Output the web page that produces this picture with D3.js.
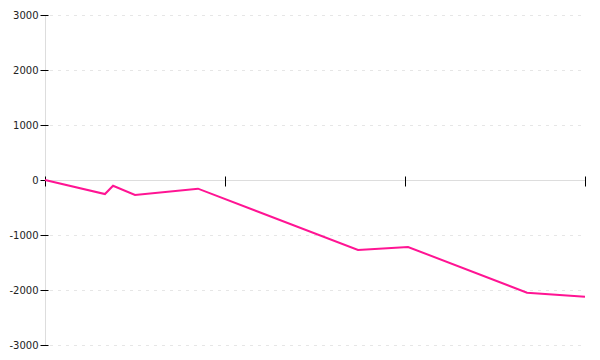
<!DOCTYPE html>
<html>
<head>
<meta charset="utf-8">
<script src="https://cdn.jsdelivr.net/npm/d3@7"></script>
<style>
    body { margin: 0; background: #fff; }
    .axis text { font-family: "DejaVu Sans", sans-serif; font-size: 10px; fill: #222; }
    .grid line { stroke: #e6e6e6; stroke-dasharray: 3,5; }
</style>
</head>
<body>
<div id="chart"></div>
<script>
    // x position of each point (axis ticks at 0..3)
    let xValues = [0, 0.333, 0.378, 0.5, 0.85, 1.739, 2.017, 2.678, 3];
    let yValues = [0, -255, -104, -273, -158, -1273, -1218, -2049, -2122];
    let yTicks = [-3000, -2000, -1000, 0, 1000, 2000, 3000];
    let xTicks = [0, 1, 2, 3];

    let margin = {top: 15, right: 15, bottom: 15, left: 45};
    let width = 600 - margin.left - margin.right;

    let svg = d3.select("#chart").append("svg")
        .attr("width", 600)
        .attr("height", 360)
        .append("g")
        .attr("transform", "translate(" + margin.left + "," + margin.top + ")");

    let x = d3.scaleLinear().domain([0, 3]).range([0, width]);
    let y = d3.scaleLinear().domain([-3000, 3000]).range([330, 0]);

    // dotted grid
    svg.append("g")
        .attr("class", "grid")
        .selectAll("line")
        .data(yTicks.filter(d => d !== 0))
        .enter()
        .append("line")
        .attr("x1", 5)
        .attr("x2", width)
        .attr("y1", d => Math.round(y(d)) + 0.5)
        .attr("y2", d => Math.round(y(d)) + 0.5);

    // y axis
    let yAxis = svg.append("g")
        .attr("class", "axis y-axis")
        .attr("transform", "translate(0.5,0)")
        .call(d3.axisLeft(y).tickValues(yTicks).tickSize(5).tickPadding(2).tickFormat(d3.format("d")));
    yAxis.select(".domain").attr("stroke", "#ddd").attr("d", "M0,0V330");
    yAxis.selectAll(".tick line").attr("x1", -5).attr("x2", 3).attr("stroke", "#000");
    yAxis.selectAll(".tick text").text(d => d < 0 ? "-" + Math.abs(d) : d);

    // x axis along zero
    let xAxis = svg.append("g")
        .attr("class", "axis x-axis")
        .attr("transform", "translate(0," + (y(0) + 0.5) + ")")
        .call(d3.axisBottom(x).tickValues(xTicks).tickSize(6).tickFormat(""));
    xAxis.select(".domain").attr("stroke", "#ddd").attr("d", "M0,0H" + width);
    xAxis.selectAll(".tick line").attr("y1", -4).attr("y2", 6).attr("stroke", "#000");

    // line
    let points = xValues.map((d, i) => [d, yValues[i]]);
    svg.append("path")
        .datum(points)
        .attr("fill", "none")
        .attr("stroke", "#ff1493")
        .attr("stroke-width", 2)
        .attr("d", d3.line().x(d => x(d[0])).y(d => y(d[1])));
</script>
</body>
</html>
